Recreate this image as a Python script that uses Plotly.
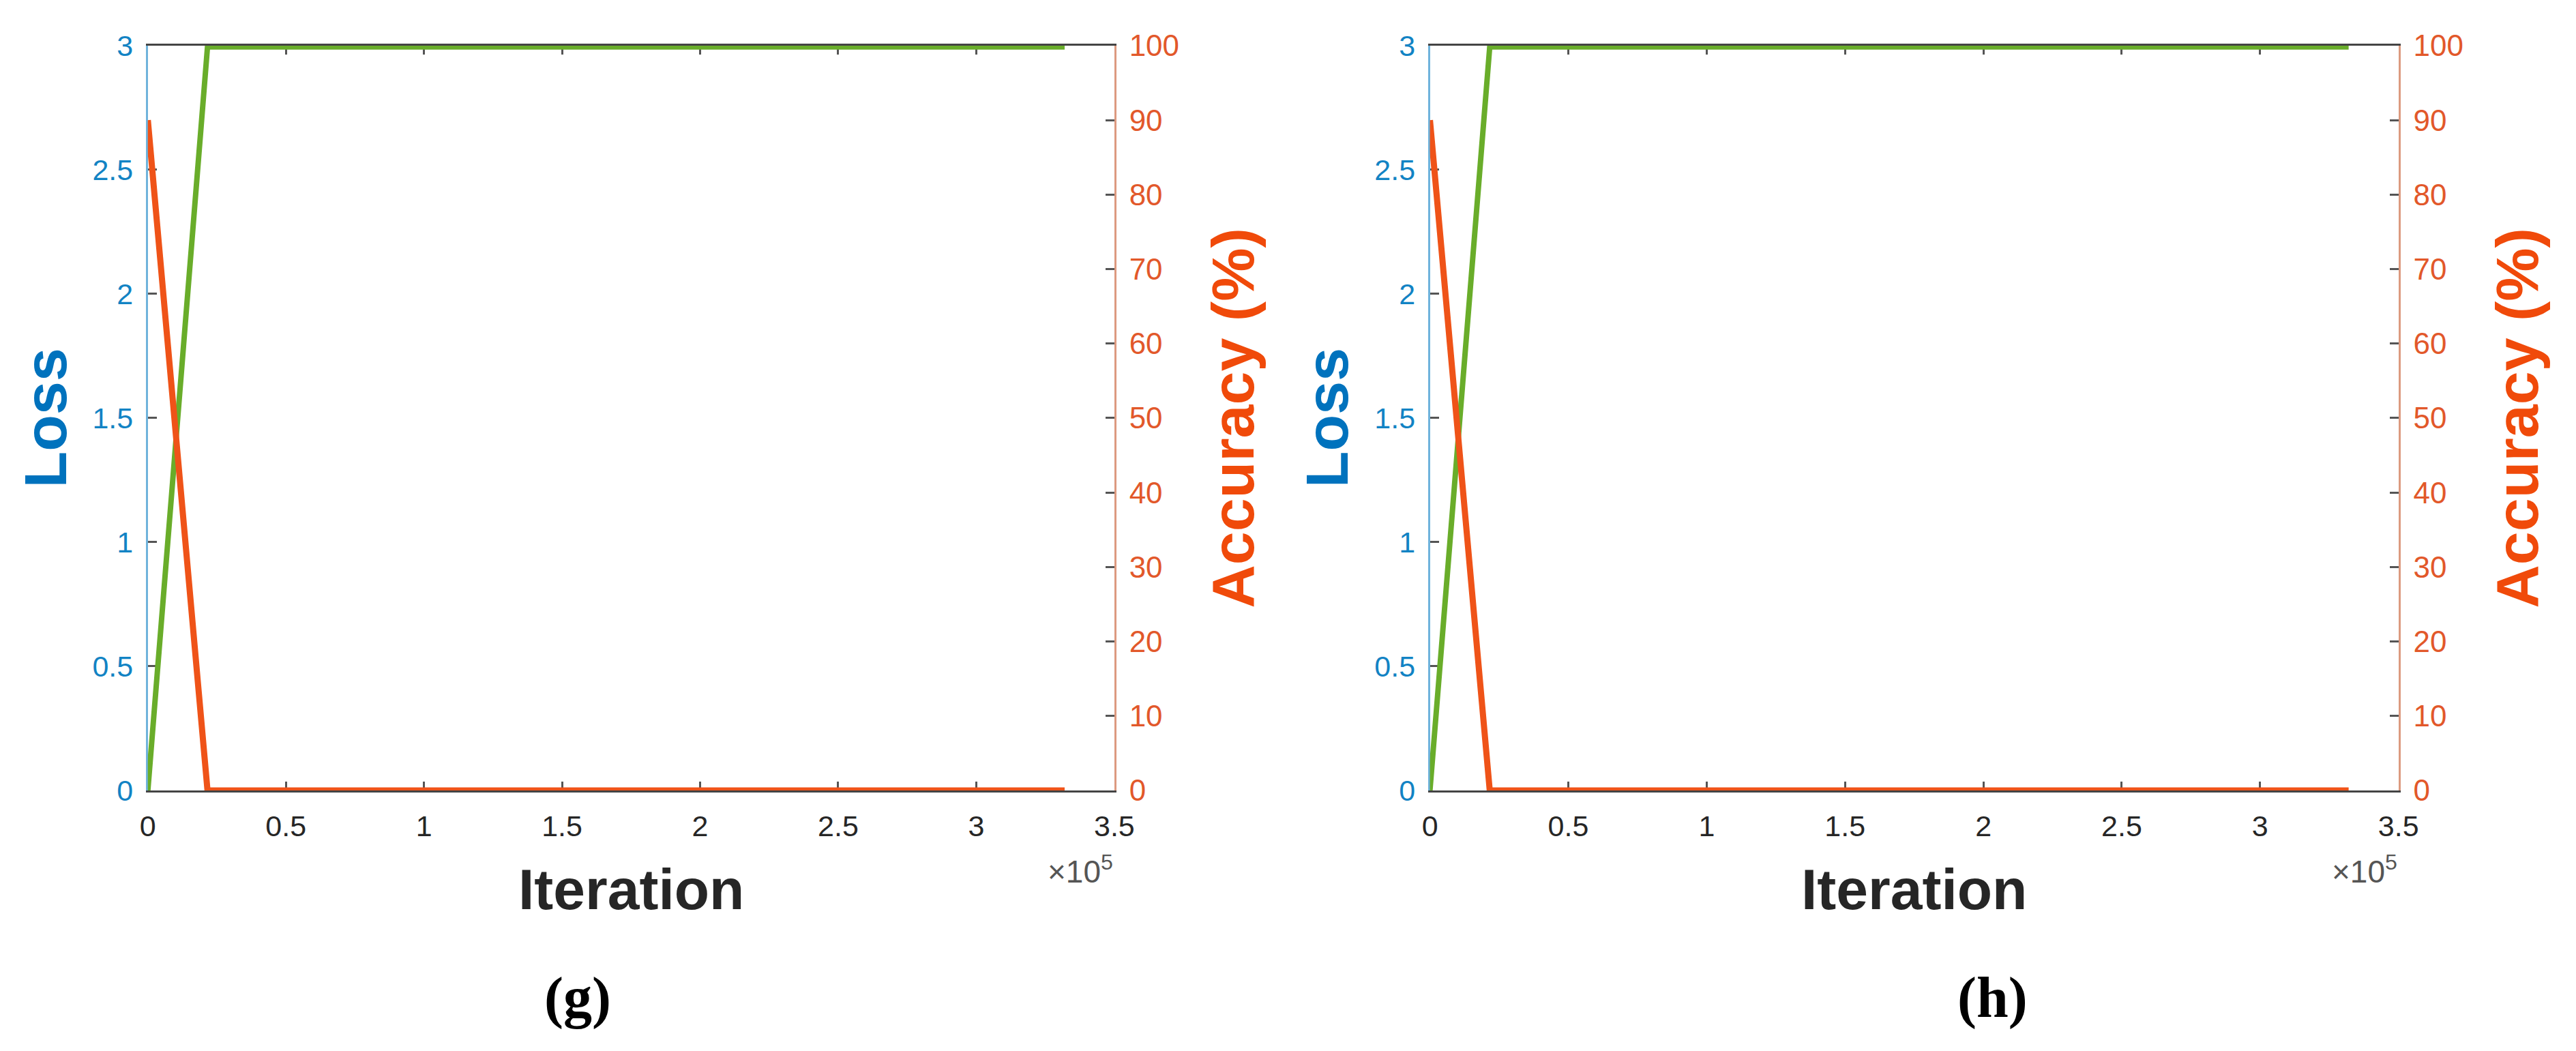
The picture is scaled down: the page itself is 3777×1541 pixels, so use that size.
import plotly.graph_objects as go

# both panels show the same curves
iterations = [0, 21600, 332000]
loss_g = [0, 2.995, 2.995]
acc_g = [90, 0, 0]
loss_h = [0, 2.995, 2.995]
acc_h = [90, 0, 0]

x_tickvals = [0, 50000, 100000, 150000, 200000, 250000, 300000, 350000]
x_ticktext = ["0", "0.5", "1", "1.5", "2", "2.5", "3", "3.5"]
loss_ticks = [0, 0.5, 1, 1.5, 2, 2.5, 3]
loss_ticktext = ["0", "0.5", "1", "1.5", "2", "2.5", "3"]
acc_ticks = [0, 10, 20, 30, 40, 50, 60, 70, 80, 90, 100]
panel_labels = ["(g)", "(h)"]

W, H = 3777, 1541
GREEN = "#69ad2a"
ORANGE = "#ef5318"
BLUE = "#0072bd"
FONT = "Liberation Sans"

# plot areas in pixels (left, right), shared top/bottom
panels = [(199, 1632), (2100, 3536)]
top_px, bottom_px = 35, 1163
ydom = [1 - bottom_px / H, 1 - top_px / H]

fig = go.Figure()

series = [(loss_g, acc_g), (loss_h, acc_h)]
for i, (loss, acc) in enumerate(series):
    xa = "x" if i == 0 else "x2"
    ya_loss = "y" if i == 0 else "y3"
    ya_acc = "y2" if i == 0 else "y4"
    fig.add_trace(go.Scatter(x=iterations, y=loss, mode="lines", xaxis=xa, yaxis=ya_loss,
                             line=dict(color=GREEN, width=8), cliponaxis=False,
                             showlegend=False))
    fig.add_trace(go.Scatter(x=iterations, y=acc, mode="lines", xaxis=xa, yaxis=ya_acc,
                             line=dict(color=ORANGE, width=9), cliponaxis=False,
                             showlegend=False))

layout = dict(width=W, height=H, margin=dict(l=0, r=0, t=0, b=0),
              paper_bgcolor="white", plot_bgcolor="white", showlegend=False)

common_tick = dict(ticks="inside", ticklen=13, tickwidth=3, tickcolor="#555555",
                   showgrid=False, zeroline=False, showline=True, linewidth=3,
                   layer="below traces")

for i, (l_px, r_px) in enumerate(panels):
    xn = "xaxis" if i == 0 else "xaxis2"
    yl = "yaxis" if i == 0 else "yaxis3"
    yr = "yaxis2" if i == 0 else "yaxis4"
    xid = "x" if i == 0 else "x2"
    ylid = "y" if i == 0 else "y3"
    layout[xn] = dict(domain=[l_px / W, r_px / W], anchor=ylid, range=[0, 350000],
                      tickvals=x_tickvals, ticktext=x_ticktext, linecolor="#444444",
                      mirror="ticks", ticklabelstandoff=12,
                      tickfont=dict(family=FONT, size=43, color="#262626"), **common_tick)
    layout[yl] = dict(domain=ydom, anchor=xid, range=[0, 3], tickvals=loss_ticks,
                      ticktext=loss_ticktext, linecolor="#6fb3dc", ticklabelstandoff=10,
                      tickfont=dict(family=FONT, size=43, color="#1283c4"), **common_tick)
    layout[yr] = dict(domain=ydom, anchor=xid, overlaying=ylid, side="right", range=[0, 100],
                      tickvals=acc_ticks, linecolor="#dc9a80", ticklabelstandoff=10,
                      tickfont=dict(family=FONT, size=44, color="#e2582a"), **common_tick)

fig.update_layout(**layout)

ann = []
for i, (l_px, r_px) in enumerate(panels):
    mid_y = (ydom[0] + ydom[1]) / 2
    ann.append(dict(text="<b>Loss</b>", x=(l_px - 152) / W, y=mid_y, textangle=-90,
                    font=dict(family=FONT, size=88, color=BLUE)))
    ann.append(dict(text="<b>Accuracy (%)</b>", x=(r_px + 176) / W, y=mid_y, textangle=-90,
                    font=dict(family=FONT, size=88, color="#f04a0a")))
    ann.append(dict(text="<b>Iteration</b>", x=(l_px + r_px) / 2 / W, y=1 - 1313 / H,
                    font=dict(family=FONT, size=84, color="#262626")))
    ann.append(dict(text="×10<sup>5</sup>", x=r_px / W, y=1 - 1283 / H,
                    xanchor="right", font=dict(family=FONT, size=46, color="#555555")))
    ann.append(dict(text="<b>" + panel_labels[i] + "</b>", x=(836 if i == 0 else 2934) / W,
                    y=1 - 1477 / H, font=dict(family="Liberation Serif", size=84, color="black")))

for a in ann:
    a.update(xref="paper", yref="paper", showarrow=False)
    a.setdefault("xanchor", "center")
    a.setdefault("yanchor", "middle")

fig.update_layout(annotations=ann)
fig.write_html("out.html")
